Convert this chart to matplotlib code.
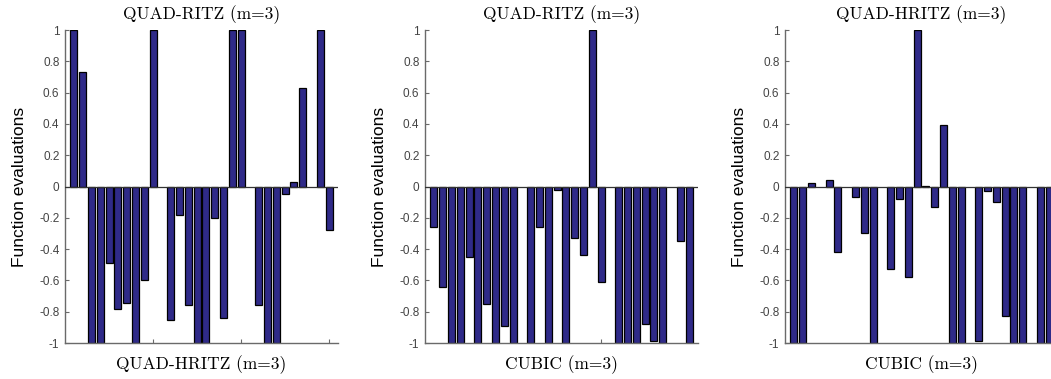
import numpy as np
import matplotlib
matplotlib.use('Agg')
import matplotlib.pyplot as plt

# bar values (30 bars each, 0 = no bar)
vals_a = [1.0, 0.73, -1.0, -1.0, -0.49, -0.78, -0.745, -1.0, -0.6, 1.0,
          0.0, -0.85, -0.18, -0.76, -1.0, -1.0, -0.2, -0.84, 1.0, 1.0,
          0.0, -0.76, -1.0, -1.0, -0.05, 0.03, 0.63, 0.0, 1.0, -0.28]
vals_b = [-0.26, -0.64, -1.0, -1.0, -0.45, -1.0, -0.75, -1.0, -0.89, -1.0,
          0.0, -1.0, -0.26, -1.0, -0.02, -1.0, -0.33, -0.44, 1.0, -0.61,
          0.0, -1.0, -1.0, -1.0, -0.88, -0.99, -1.0, 0.0, -0.35, -1.0]
vals_c = [-1.0, -1.0, 0.02, 0.0, 0.04, -0.42, 0.0, -0.07, -0.3, -1.0,
          0.0, -0.53, -0.08, -0.58, 1.0, 0.005, -0.13, 0.39, -1.0, -1.0,
          0.0, -0.99, -0.03, -0.1, -0.83, -1.0, -1.0, 0.0, -1.0, -1.0]

titles = ['QUAD-RITZ (m=3)', 'QUAD-RITZ (m=3)', 'QUAD-HRITZ (m=3)']
xlabels = ['QUAD-HRITZ (m=3)', 'CUBIC (m=3)', 'CUBIC (m=3)']
yticks = np.arange(-1, 1.01, 0.2)
ytick_labels = ['-1', '-0.8', '-0.6', '-0.4', '-0.2', '0', '0.2', '0.4', '0.6', '0.8', '1']

bar_col = '#2f2a88'
grey = '#6a6a6a'

fig = plt.figure(figsize=(10.51, 3.79), dpi=100)
lefts = [65/1051, 425/1051, 785/1051]
w = 273/1051
bot = 1 - 343/379
h = (343 - 30)/379

for i, vals in enumerate([vals_a, vals_b, vals_c]):
    ax = fig.add_axes([lefts[i], bot, w, h])
    x = np.arange(1, len(vals) + 1)
    v = np.array(vals)
    ax.bar(x[v != 0], v[v != 0], width=0.8, color=bar_col, edgecolor='black', linewidth=0.9, zorder=2)
    ax.axhline(0, color='#333333', lw=0.9, zorder=3)
    ax.set_xlim(0, 31)
    ax.set_ylim(-1, 1)
    ax.set_xticks([10, 20, 30])
    ax.set_xticklabels([])
    ax.set_yticks(yticks)
    ax.set_yticklabels(ytick_labels, fontsize=8.5, color='#444444', family='Liberation Sans')
    ax.tick_params(direction='in', length=3, width=0.8, color=grey)
    ax.tick_params(axis='y', pad=4)
    for s in ['top', 'right']:
        ax.spines[s].set_visible(False)
    for s in ['left', 'bottom']:
        ax.spines[s].set_color(grey)
        ax.spines[s].set_linewidth(1.0)
    ax.set_ylabel('Function evaluations', fontsize=12.5, family='Liberation Sans', labelpad=9)
    ax.set_title(titles[i], fontsize=12.5, family='cmr10', pad=8)
    ax.set_xlabel(xlabels[i], fontsize=12.5, family='cmr10', labelpad=5)

plt.savefig('out.png', dpi=100)
